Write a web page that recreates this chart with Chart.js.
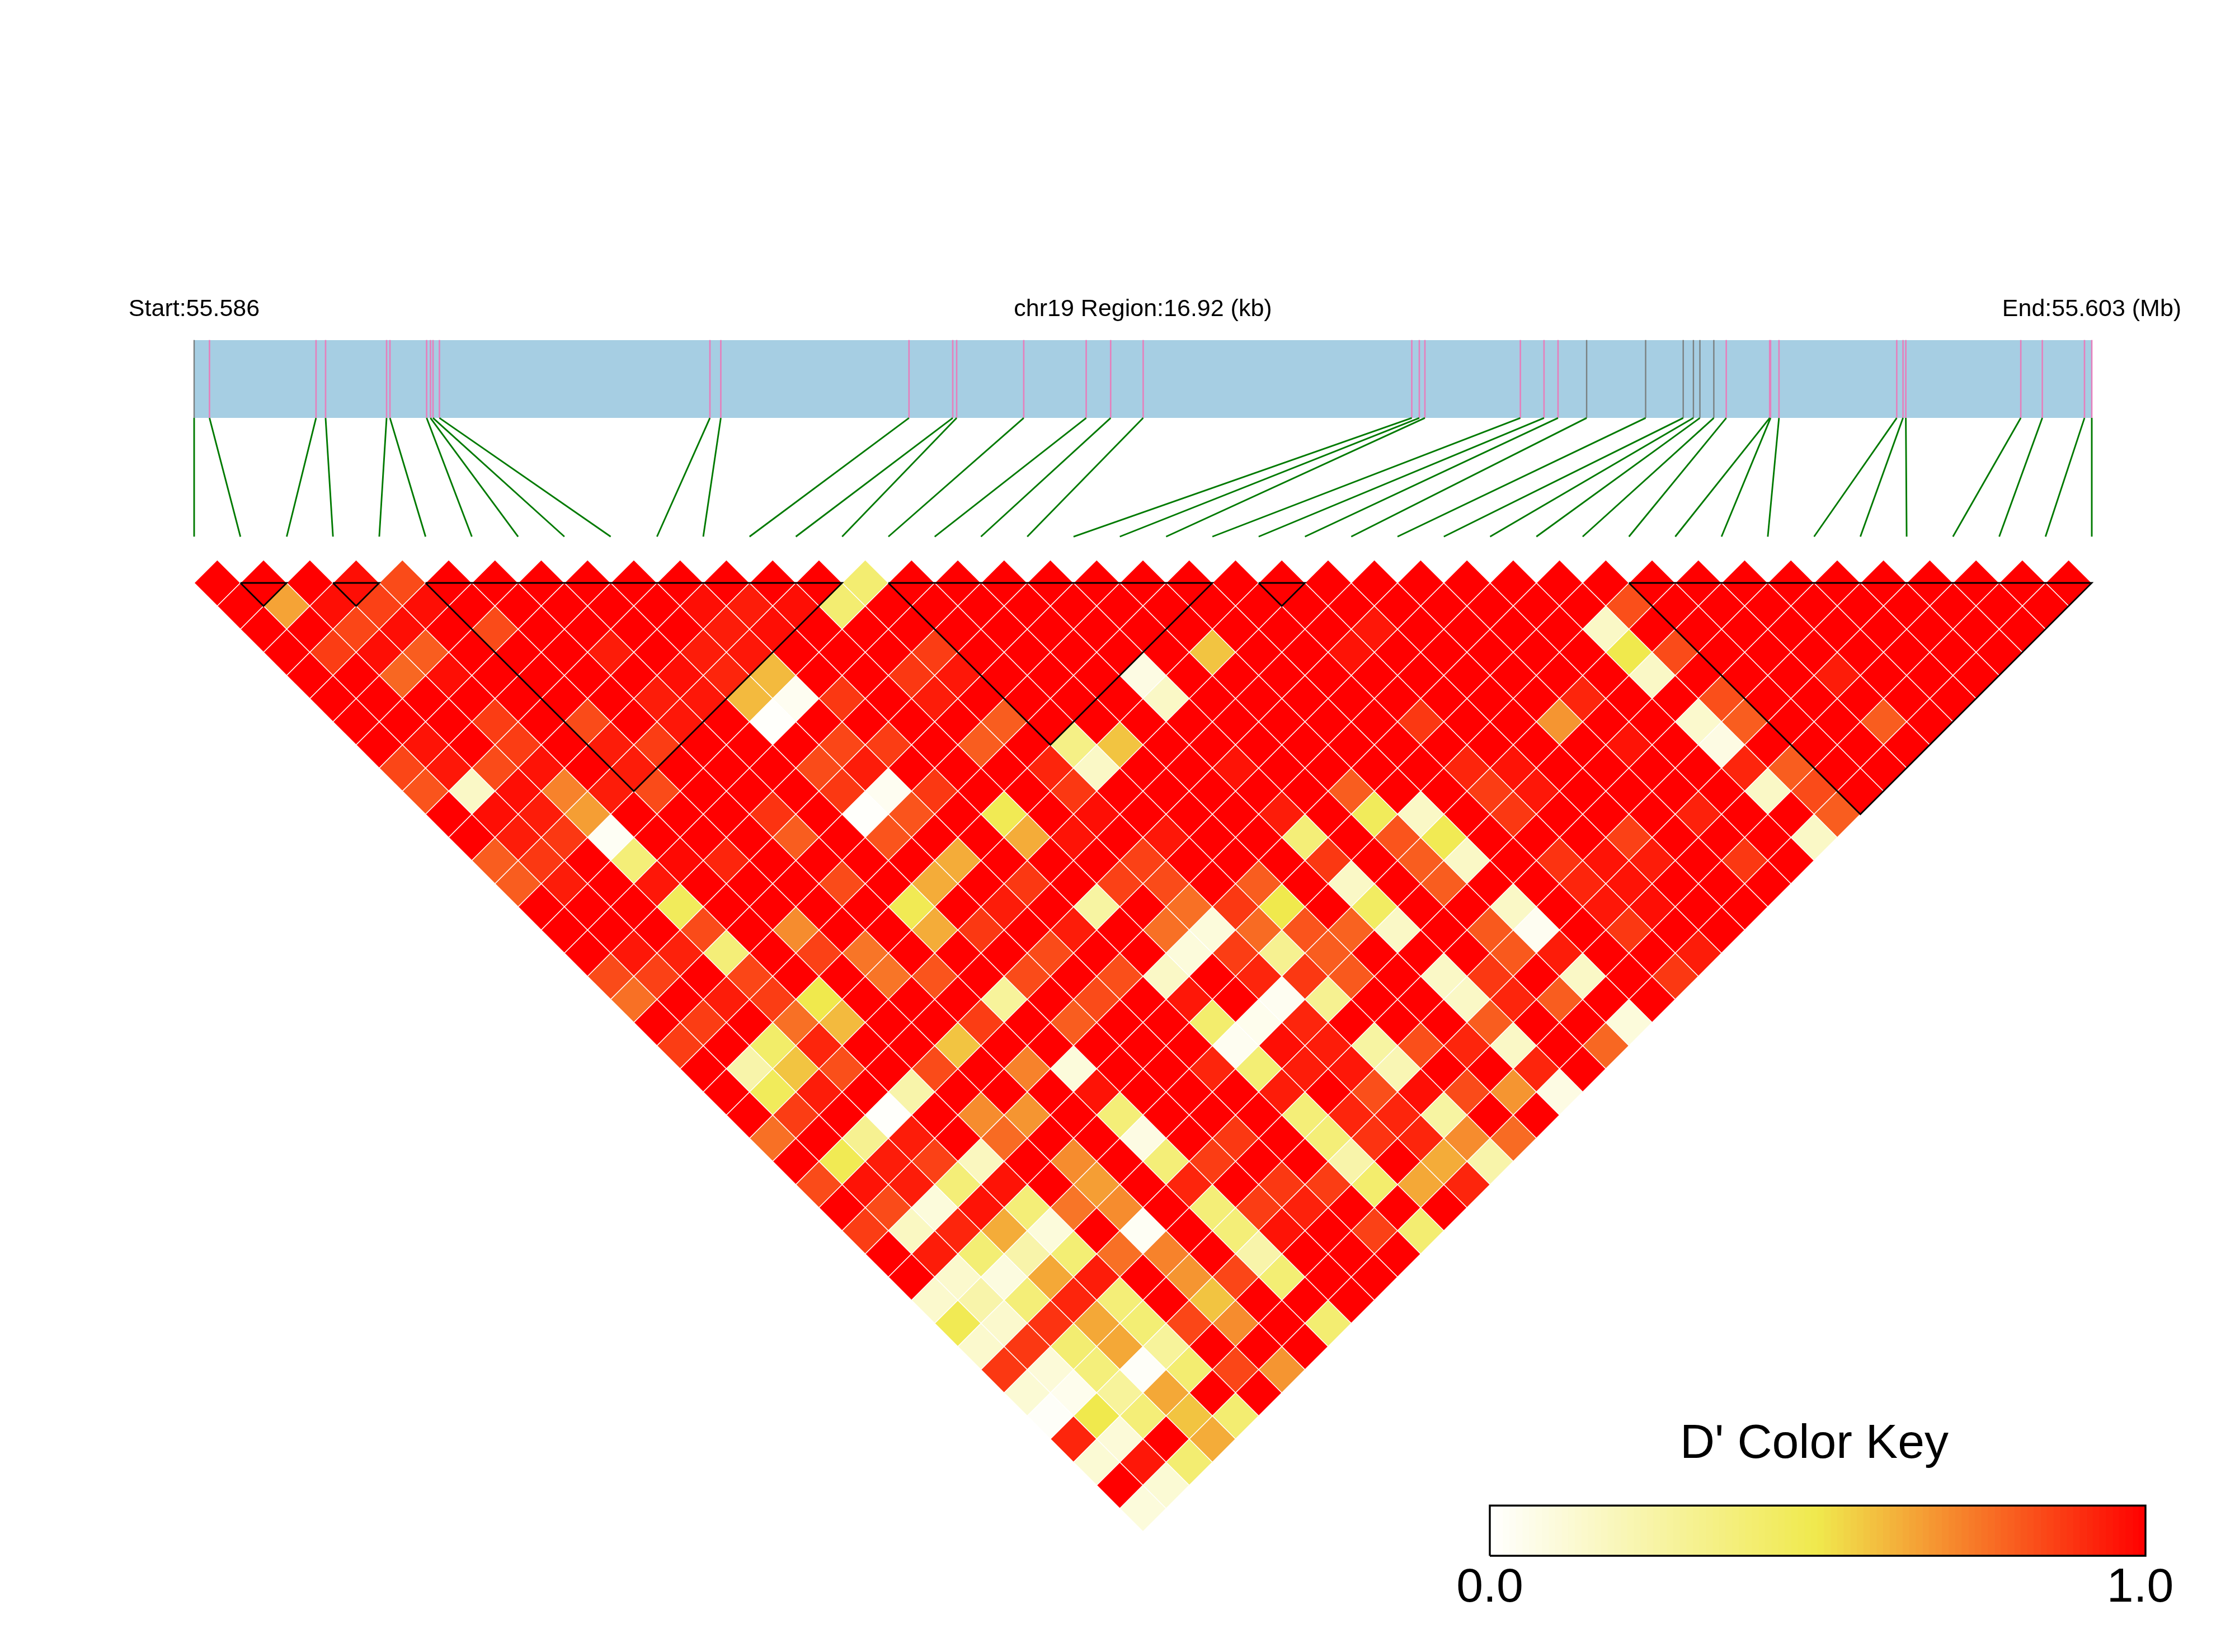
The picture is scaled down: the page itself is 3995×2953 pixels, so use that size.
<!DOCTYPE html>
<html>
<head>
<meta charset="utf-8">
<style>
html,body{margin:0;padding:0;background:#fff;}
#stage{position:relative;width:3995px;height:2953px;background:#fff;overflow:hidden;}
canvas{position:absolute;display:block;}
</style>
<script src="https://cdn.jsdelivr.net/npm/chart.js@4/dist/chart.umd.js"></script>
</head>
<body>
<div id="stage">
<canvas id="ld" width="3995" height="2953" style="left:0;top:0;width:3995px;height:2953px"></canvas>
<canvas id="key" width="1488" height="420" style="left:2499px;top:2500px;width:1488px;height:420px"></canvas>
</div>
<script>
// Axis text
const axisLabels = ['Start:55.586', 'chr19 Region:16.92 (kb)', 'End:55.603 (Mb)'];
const regionKb = 16.92;
const axisKb = [0, 8.46, 16.92];
const keyTitle = "D' Color Key";
const keyTicks = [0, 0.992];

// SNP physical positions in kb from region start
const snpKb = [0,0.137,1.087,1.172,1.716,1.746,2.073,2.107,2.130,2.187,4.599,4.696,6.374,6.764,6.799,7.397,7.954,8.172,8.462,10.857,10.924,10.974,11.825,12.036,12.161,12.416,12.942,13.277,13.368,13.426,13.550,13.661,14.048,14.056,14.131,15.181,15.237,15.262,16.287,16.479,16.855,16.92];
const greySnps = [0,25,26,27,28,29,30];

// LD blocks as SNP index ranges
const blockStart = [1,3,5,15,23,31];
const blockEnd = [2,4,14,22,24,41];

// D' x 100, one array for each depth of the triangle
const depth00 = [100,100,100,97,84,100,100,100,100,100,100,100,100,100,40,100,100,100,100,100,100,100,100,100,100,100,100,100,100,100,100,100,100,100,100,100,100,100,100,100,100];
const depth01 = [100,65,97,86,97,100,100,100,100,100,97,94,97,40,100,100,100,100,100,100,100,100,100,100,100,100,100,100,100,100,83,100,100,100,100,100,100,100,100,100];
const depth02 = [100,100,85,97,100,84,100,100,100,100,94,97,100,100,100,100,100,100,100,100,100,100,100,100,95,100,100,100,100,16,100,100,100,100,100,100,100,100,100];
const depth03 = [100,87,97,80,100,100,100,94,100,94,95,100,100,100,87,100,100,100,100,100,58,100,100,96,100,100,100,100,100,50,84,100,100,100,100,100,100,100];
const depth04 = [100,100,78,97,100,100,100,100,97,92,60,100,100,88,95,100,100,100,8,100,100,100,100,100,100,100,100,100,100,16,100,100,100,94,100,100,100];
const depth05 = [100,100,100,100,100,100,100,94,95,60,4,88,100,94,100,100,100,100,16,100,100,100,100,100,100,100,100,92,100,100,83,100,100,100,100,100];
const depth06 = [100,100,100,87,100,84,100,95,100,1,100,100,100,100,80,100,100,100,100,100,100,100,100,88,100,100,68,100,100,14,80,100,100,80,100];
const depth07 = [100,96,100,87,100,94,87,100,100,100,85,87,100,80,100,34,58,100,100,100,100,100,100,100,100,100,100,96,100,8,100,100,100,100];
const depth08 = [85,95,84,96,100,94,100,100,100,84,94,100,100,100,92,16,100,100,96,100,100,100,100,92,96,100,100,100,100,92,80,100,100];
const depth09 = [82,16,97,72,94,84,100,100,100,88,4,88,100,100,88,100,100,100,100,100,80,100,100,87,95,100,100,100,100,16,84,100];
const depth10 = [100,97,94,66,100,100,100,89,100,1,82,100,48,100,97,100,100,100,94,100,46,16,100,88,100,100,100,93,100,100,80];
const depth11 = [100,94,88,3,100,100,100,80,100,82,100,100,63,96,100,95,100,100,38,100,82,48,100,100,100,86,100,100,100,16];
const depth12 = [80,88,100,38,98,92,100,100,100,100,63,100,100,100,86,100,100,100,88,100,80,16,100,89,96,94,100,88,100];
const depth13 = [80,94,100,95,100,100,100,84,100,63,100,88,100,86,84,100,80,100,16,100,80,100,100,92,96,100,100,100];
const depth14 = [100,100,100,46,100,100,100,100,48,100,94,100,26,100,76,88,50,100,44,100,100,16,100,95,97,100,100];
const depth15 = [100,100,100,84,100,70,100,100,63,88,100,94,100,76,10,77,82,79,16,100,81,4,100,88,100,100];
const depth16 = [100,95,93,38,100,86,75,100,100,100,84,100,100,10,87,31,80,100,100,100,81,94,100,100,94];
const depth17 = [84,86,100,85,100,100,75,82,100,84,100,83,16,100,92,88,81,100,16,88,100,16,100,88];
const depth18 = [76,100,94,87,50,100,100,100,28,100,84,100,95,100,4,31,100,100,16,92,80,100,100];
const depth19 = [100,87,100,76,60,100,100,87,100,80,100,100,41,5,92,100,100,100,80,100,100,10];
const depth20 = [87,100,42,92,100,100,58,100,100,100,100,100,4,97,94,26,83,92,16,100,78];
const depth21 = [100,24,58,83,100,84,100,72,10,100,100,92,39,94,95,21,100,100,92,100];
const depth22 = [100,46,94,100,24,100,100,100,96,100,100,100,94,100,83,97,84,68,8];
const depth23 = [100,87,100,1,100,70,68,100,38,100,100,100,38,92,92,26,100,100];
const depth24 = [76,100,31,94,100,77,100,100,8,100,88,100,38,89,92,70,77];
const depth25 = [100,48,94,86,18,100,70,100,38,87,100,100,24,100,63,24];
const depth26 = [84,96,94,38,96,100,66,100,92,100,88,87,41,64,92];
const depth27 = [100,84,10,96,38,75,70,100,38,87,93,100,100,100];
const depth28 = [87,17,92,63,10,100,3,100,38,96,100,86,40];
const depth29 = [100,94,39,24,39,76,72,100,24,100,100,100];
const depth30 = [100,14,9,64,94,100,68,85,39,100,100];
const depth31 = [14,24,38,92,38,100,58,100,100,100];
const depth32 = [48,14,89,64,39,85,70,100,40];
const depth33 = [14,88,40,64,28,100,100,100];
const depth34 = [88,11,37,2,40,85,68];
const depth35 = [12,5,28,64,100,100];
const depth36 = [2,50,38,58,40];
const depth37 = [92,11,100,63];
const depth38 = [12,95,40];
const depth39 = [100,12];
const depth40 = [10];

// Levels of the colour key
const keyLevels = [0,1,2,3,4,5,6,7,8,9,10,11,12,13,14,15,16,17,18,19,20,21,22,23,24,25,26,27,28,29,30,31,32,33,34,35,36,37,38,39,40,41,42,43,44,45,46,47,48,49,50,51,52,53,54,55,56,57,58,59,60,61,62,63,64,65,66,67,68,69,70,71,72,73,74,75,76,77,78,79,80,81,82,83,84,85,86,87,88,89,90,91,92,93,94,95,96,97,98,99];

const depths = [depth00,depth01,depth02,depth03,depth04,depth05,depth06,depth07,depth08,depth09,depth10,depth11,depth12,depth13,depth14,depth15,depth16,depth17,depth18,depth19,depth20,depth21,depth22,depth23,depth24,depth25,depth26,depth27,depth28,depth29,depth30,depth31,depth32,depth33,depth34,depth35,depth36,depth37,depth38,depth39,depth40];

function dColor(v){
  const a = v <= 0.5 ? [255,255,255] : [240,233,77];
  const b = v <= 0.5 ? [240,233,77] : [255,0,0];
  const t = v <= 0.5 ? v/0.5 : (v-0.5)/0.5;
  const c = a.map((x,i)=>Math.round(x+(b[i]-x)*t));
  return 'rgb('+c.join(',')+')';
}

const snpCount = snpKb.length;
const snpX = i => i*regionKb/(snpCount-1);
const FONT = '"Liberation Sans", Arial, sans-serif';
const ROW_PX = 41.36;
const BAR_TOP = -10.5, BAR_BOTTOM = -7.13, LINK_BOTTOM = -2.0;

const cells = [], cellColors = [];
depths.forEach((vals,d)=>vals.forEach((v,p)=>{
  cells.push({x:snpX(p+(d+1)/2), y:d});
  cellColors.push(dColor(v/100));
}));

const pinkTicks = [], greyTicks = [], links = [], blocks = [];
const gap = {x:null,y:null};
snpKb.forEach((k,i)=>{
  const t = greySnps.includes(i) ? greyTicks : pinkTicks;
  t.push({x:k,y:BAR_TOP},{x:k,y:BAR_BOTTOM},gap);
  links.push({x:k,y:BAR_BOTTOM},{x:snpX(i),y:LINK_BOTTOM},gap);
});
blockStart.forEach((a,i)=>{
  const b = blockEnd[i];
  blocks.push({x:snpX(a),y:0},{x:snpX(b),y:0},{x:snpX((a+b)/2),y:b-a},{x:snpX(a),y:0},gap);
});

const lineSet = (data,color,width,order)=>({type:'scatter',data,showLine:true,borderColor:color,borderWidth:width,pointRadius:0,order,clip:false,spanGaps:false,borderCapStyle:'butt'});

new Chart(document.getElementById('ld'),{
  type:'scatter',
  data:{datasets:[
    {data:[{x:0,y:BAR_TOP},{x:regionKb,y:BAR_TOP}],showLine:true,borderWidth:0,backgroundColor:'#A6CEE3',fill:{value:BAR_BOTTOM},pointRadius:0,order:10,clip:false},
    lineSet(pinkTicks,'#E67FBC',2.6,9),
    lineSet(greyTicks,'#7A8080',2.4,8),
    lineSet(links,'#007A00',2.9,7),
    {data:cells,pointStyle:'rectRot',pointRadius:ROW_PX,pointBackgroundColor:cellColors,pointBorderColor:'#FFFFFF',pointBorderWidth:1.4,showLine:false,order:6,clip:false},
    lineSet(blocks,'#000000',2.8,1)
  ]},
  options:{
    responsive:false,animation:false,devicePixelRatio:1,events:[],
    layout:{padding:{left:347,right:256,top:0,bottom:215.2}},
    plugins:{legend:{display:false},tooltip:{enabled:false},title:{display:false}},
    scales:{
      x:{type:'linear',position:'top',min:0,max:regionKb,
        grid:{display:false,drawTicks:false},border:{display:false},
        afterBuildTicks:s=>{s.ticks=axisKb.map(value=>({value}));},
        afterFit:s=>{s.height=607.7;},
        ticks:{autoSkip:false,maxRotation:0,minRotation:0,padding:29,color:'#000',font:{family:FONT,size:43},
          callback:(v,i)=>axisLabels[i]}},
      y:{type:'linear',reverse:true,min:BAR_TOP,max:41,display:false}
    }
  }
});

const keyBars = keyLevels.map(l=>({x:(l+0.5)/keyLevels.length,y:1}));
const keyFrame = [{x:0,y:0},{x:1,y:0},{x:1,y:1},{x:0,y:1},{x:0,y:0}];
new Chart(document.getElementById('key'),{
  type:'bar',
  data:{datasets:[
    {type:'bar',data:keyBars,backgroundColor:keyLevels.map(l=>dColor((l+0.5)/keyLevels.length)),borderWidth:0,barPercentage:1,categoryPercentage:1,order:2},
    {type:'scatter',data:keyFrame,showLine:true,borderColor:'#000',borderWidth:3.4,pointRadius:0,order:1,clip:false}
  ]},
  options:{
    responsive:false,animation:false,devicePixelRatio:1,events:[],
    layout:{padding:{left:152,right:152,top:0,bottom:0}},
    plugins:{legend:{display:false},tooltip:{enabled:false},
      title:{display:true,text:keyTitle,color:'#000',font:{family:FONT,size:86,weight:'normal'},padding:{top:31,bottom:57}}},
    scales:{
      x:{type:'linear',min:0,max:1,offset:false,grid:{display:false,drawTicks:false},border:{display:false},
        afterBuildTicks:s=>{s.ticks=keyTicks.map(value=>({value}));},
        afterFit:s=>{s.height=139;},
        ticks:{autoSkip:false,maxRotation:0,minRotation:0,padding:7,color:'#000',font:{family:FONT,size:86},
          callback:v=>v.toFixed(1)}},
      y:{type:'linear',min:0,max:1,grid:{display:false},border:{display:false},ticks:{display:false},afterFit:s=>{s.width=12;}}
    }
  }
});
</script>
</body>
</html>
